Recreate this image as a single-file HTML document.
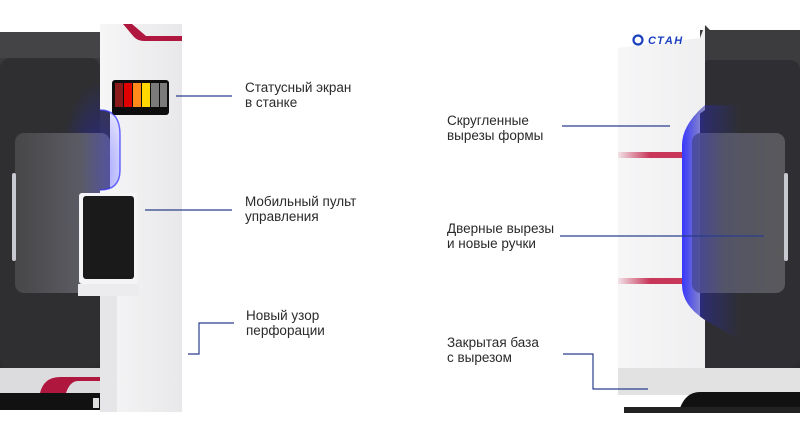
<!DOCTYPE html>
<html><head><meta charset="utf-8"><style>
html,body{margin:0;padding:0;background:#fff;}
body{width:800px;height:435px;position:relative;overflow:hidden;font-family:"Liberation Sans","DejaVu Sans",sans-serif;}
.t{position:absolute;font-size:13.5px;line-height:14.5px;color:#2a2a2a;white-space:nowrap;}
</style></head><body>
<svg width="800" height="435" style="position:absolute;left:0;top:0">
<defs>
<linearGradient id="dk" x1="0" y1="0" x2="0" y2="1"><stop offset="0" stop-color="#3c3c3e"/><stop offset="1" stop-color="#2b2b2d"/></linearGradient>
<linearGradient id="pan" x1="0" y1="0" x2="1" y2="0"><stop offset="0" stop-color="#4a4a4c"/><stop offset="0.7" stop-color="#606068"/><stop offset="1" stop-color="#5858a0"/></linearGradient>
<linearGradient id="pan2" x1="0" y1="0" x2="1" y2="0"><stop offset="0" stop-color="#4848a0"/><stop offset="0.35" stop-color="#58586c"/><stop offset="1" stop-color="#5e5e60"/></linearGradient>
<linearGradient id="wh" x1="0" y1="0" x2="1" y2="0"><stop offset="0" stop-color="#f6f6f7"/><stop offset="1" stop-color="#e8e8ea"/></linearGradient>
<linearGradient id="fade" x1="0" y1="0" x2="1" y2="0"><stop offset="0" stop-color="#c8365a" stop-opacity="0.1"/><stop offset="0.5" stop-color="#c8365a"/></linearGradient>
<linearGradient id="bl" x1="0" y1="0" x2="1" y2="0"><stop offset="0" stop-color="#2020ff" stop-opacity="0.9"/><stop offset="0.4" stop-color="#2a2aa0" stop-opacity="0.5"/><stop offset="1" stop-color="#2a2aa0" stop-opacity="0"/></linearGradient>
<radialGradient id="glow" cx="0.5" cy="0.5" r="0.5"><stop offset="0" stop-color="#2020ff" stop-opacity="0.45"/><stop offset="1" stop-color="#2020ff" stop-opacity="0"/></radialGradient>
</defs>
<!-- LEFT MACHINE -->
<rect x="0" y="32" width="110" height="345" fill="url(#dk)"/>
<rect x="0" y="32" width="100" height="26" fill="#444446"/>
<rect x="0" y="58" width="100" height="310" rx="10" fill="#2f2f31"/>
<ellipse cx="100" cy="170" rx="40" ry="90" fill="url(#glow)"/>
<rect x="15" y="133" width="95" height="160" rx="9" fill="url(#pan)" opacity="0.9"/>
<rect x="12" y="173" width="4" height="88" rx="2" fill="#c8c8d0"/>
<rect x="0" y="368" width="182" height="25" fill="#dcdcde"/>
<path d="M40 393 Q44 377 60 377 L182 377 L182 381 L78 381 Q70 381 66 393 Z" fill="#b0173f"/>
<rect x="0" y="393" width="182" height="17" fill="#111"/>
<path d="M100 24 L182 24 L182 412 L100 412 L100 190 Q120 190 120 170 L120 135 Q120 110 100 110 Z" fill="url(#wh)"/>
<path d="M100 110 Q120 110 120 135 L120 170 Q120 190 100 190" fill="none" stroke="#3030ff" stroke-width="1.5" opacity="0.7"/>
<path d="M123 24 L132 24 L146 36 L182 36 L182 41 L144 41 Q138 41 134 37 Z" fill="#b0173f"/>
<rect x="112" y="80" width="57" height="35" rx="3" fill="#0d0d0d"/>
<rect x="115" y="83" width="8" height="24" fill="#8b1a1a"/>
<rect x="124" y="83" width="8" height="24" fill="#e00000"/>
<rect x="133" y="83" width="8" height="24" fill="#ff8a1a"/>
<rect x="142" y="83" width="8" height="24" fill="#ffd800"/>
<rect x="151" y="83" width="8" height="24" fill="#7a7a7a"/>
<rect x="160" y="83" width="7" height="24" fill="#7a7a7a"/>
<rect x="79" y="193" width="58" height="91" rx="3" fill="#f4f4f6"/>
<rect x="83" y="196" width="51" height="83" rx="3" fill="#1a1a1a"/>
<rect x="78" y="284" width="61" height="12" fill="#ececee"/>
<rect x="100" y="296" width="17" height="116" fill="#e6e6e8"/>
<rect x="93" y="398" width="6" height="10" fill="#ddd"/>
<!-- RIGHT MACHINE -->
<rect x="700" y="30" width="100" height="345" fill="url(#dk)"/>
<path d="M705 25 L710 30 L800 30 L800 60 L705 60 Z" fill="#3c3c3e"/>
<rect x="700" y="60" width="100" height="308" rx="10" fill="#2f2f33"/>
<path d="M618 48 L700 38 L705 25 L705 110 Q682 125 682 145 L682 285 Q682 305 705 320 L705 368 L800 368 L800 395 L618 395 Z" fill="url(#wh)"/>
<path d="M705 105 Q682 125 682 145 L682 285 Q682 305 705 320 L740 340 L740 105 Z" fill="url(#bl)"/>
<rect x="692" y="133" width="93" height="160" rx="9" fill="url(#pan2)" opacity="0.9"/>
<rect x="784" y="173" width="4" height="88" rx="2" fill="#c8c8d0"/>
<rect x="618" y="152" width="64" height="6" fill="url(#fade)"/>
<rect x="618" y="278" width="64" height="6" fill="url(#fade)"/>
<rect x="618" y="368" width="182" height="27" fill="#e2e2e3"/>
<path d="M680 408 Q686 392 700 392 L800 392 L800 413 L680 413 Z" fill="#111"/>
<rect x="624" y="407" width="176" height="6" fill="#222"/>
<circle cx="638" cy="40" r="4.5" fill="none" stroke="#1a3fc0" stroke-width="2.2"/>
<text x="648" y="44" font-family="Liberation Sans" font-weight="bold" font-style="italic" font-size="11" fill="#1a3fc0" letter-spacing="1.5">СТАН</text>
<!-- LINES -->
<g stroke="#2a3e8c" stroke-width="1.2" fill="none">
<path d="M176 96 H232"/>
<path d="M145 210 H232"/>
<path d="M188 354 H199 V323 H234"/>
<path d="M562 126 H670"/>
<path d="M560 236 H764"/>
<path d="M563 354 H593 V389 H648"/>
</g>
</svg>
<div class="t" style="left:245px;top:81px">Статусный экран<br>в станке</div>
<div class="t" style="left:245px;top:195px">Мобильный пульт<br>управления</div>
<div class="t" style="left:246px;top:309px">Новый узор<br>перфорации</div>
<div class="t" style="left:447px;top:114px">Скругленные<br>вырезы формы</div>
<div class="t" style="left:447px;top:222px">Дверные вырезы<br>и новые ручки</div>
<div class="t" style="left:447px;top:336px">Закрытая база<br>с вырезом</div>
</body></html>
